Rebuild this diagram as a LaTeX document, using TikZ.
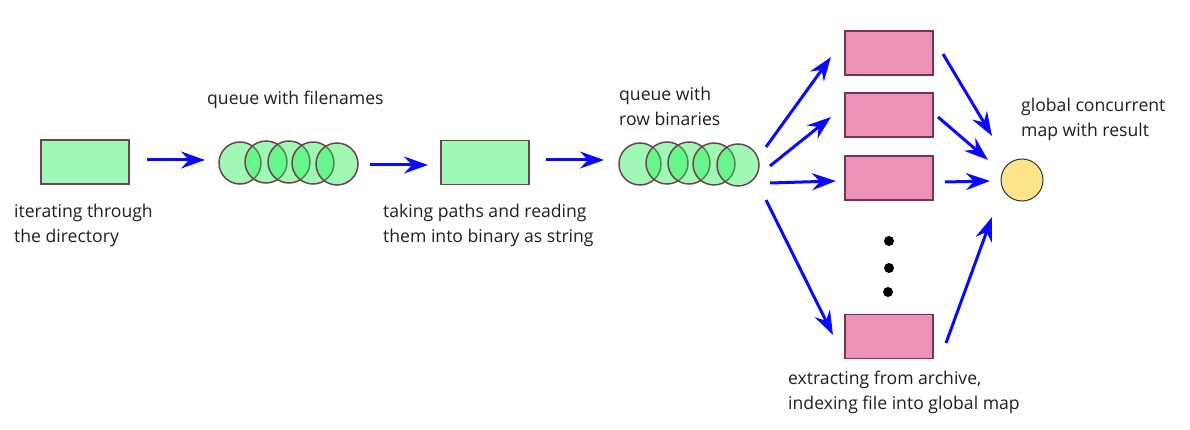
\documentclass[tikz,border=0pt]{standalone}
\usepackage{fontspec}
\setmainfont{Open Sans}
\usetikzlibrary{arrows.meta}
\definecolor{gfill}{RGB}{158,249,180}
\definecolor{gbase}{RGB}{26,241,77}
\definecolor{gline}{RGB}{115,65,80}
\definecolor{pfill}{RGB}{236,146,182}
\definecolor{pline}{RGB}{120,50,85}
\definecolor{yfill}{RGB}{253,227,138}
\definecolor{yline}{RGB}{50,50,50}
\definecolor{arr}{RGB}{10,10,250}
\begin{document}
\begin{tikzpicture}[x=1pt,y=-1pt,
  gbox/.style={draw=gline,line width=1.5pt,fill=gfill,minimum width=88pt,minimum height=44pt,inner sep=0pt},
  qcirc/.style={circle,draw=gline,line width=1.5pt,fill=gbase,fill opacity=0.42,draw opacity=1,minimum size=42pt,inner sep=0pt},
  pbox/.style={draw=pline,line width=1.5pt,fill=pfill,minimum width=88pt,minimum height=44pt,inner sep=0pt},
  dot/.style={circle,fill=black,minimum size=10pt,inner sep=0pt},
  lbl/.style={font=\fontsize{17.6pt}{25pt}\selectfont,text=black!88,align=left,inner sep=0pt,anchor=west},
  flow/.style={draw=arr,line width=3pt,-{Stealth[length=24pt,width=17pt,inset=8pt]}}
]
\useasboundingbox (0,0) rectangle (1190,430);
% first stage
\node[gbox] (r1) at (85,162) {};
\node[qcirc] (a1) at (240,163) {};
\node[qcirc] (a2) at (266,162) {};
\node[qcirc] (a3) at (289,162) {};
\node[qcirc] (a4) at (313,163) {};
\node[qcirc] (a5) at (337,164) {};
\node[gbox] (r2) at (485,162.5) {};
\node[qcirc] (b1) at (640,164) {};
\node[qcirc] (b2) at (667,163) {};
\node[qcirc] (b3) at (689,163) {};
\node[qcirc] (b4) at (714,164) {};
\node[qcirc] (b5) at (738,165) {};
% pink boxes
\node[pbox] (p1) at (889,53) {};
\node[pbox] (p2) at (889,115) {};
\node[pbox] (p3) at (889,178) {};
\node[pbox] (p4) at (889,336.5) {};
\node[dot] (d1) at (889,241) {};
\node[dot] (d2) at (889,268) {};
\node[dot] (d3) at (888,292) {};
\node[circle,draw=yline,line width=1pt,fill=yfill,minimum size=42pt,inner sep=0pt] (m) at (1022,180) {};
% labels
\node[lbl] (t1) at (14,225.5) {iterating through\\the directory};
\node[lbl] (t2) at (207,100) {queue with filenames};
\node[lbl] (t3) at (383,225.5) {taking paths and reading\\them into binary as string};
\node[lbl] (t4) at (619,106.5) {queue with\\row binaries};
\node[lbl] (t5) at (1021,119.5) {global concurrent\\map with result};
\node[lbl] (t6) at (788,392.5) {extracting from archive,\\indexing file into global map};
% arrow end coordinates
\coordinate (s1) at (147,160); \coordinate (e1) at (205,160);
\coordinate (s2) at (370,165); \coordinate (e2) at (428,165);
\coordinate (s3) at (546,160); \coordinate (e3) at (604,160);
\coordinate (sa) at (766,147); \coordinate (ea) at (831,57);
\coordinate (sb) at (770,166); \coordinate (eb) at (831,117);
\coordinate (sc) at (770,183); \coordinate (ec) at (836,181);
\coordinate (sd) at (766,200); \coordinate (ed) at (833,335);
\coordinate (sp1) at (943,54);  \coordinate (ep1) at (992,136);
\coordinate (sp2) at (938,117); \coordinate (ep2) at (988,160);
\coordinate (sp3) at (945,182); \coordinate (ep3) at (990,181);
\coordinate (sp4) at (946,343); \coordinate (ep4) at (992,217);
\foreach \s/\e in {s1/e1,s2/e2,s3/e3,sa/ea,sb/eb,sc/ec,sd/ed,sp1/ep1,sp2/ep2,sp3/ep3,sp4/ep4}
  \draw[flow] (\s) -- (\e);
\end{tikzpicture}
\end{document}
